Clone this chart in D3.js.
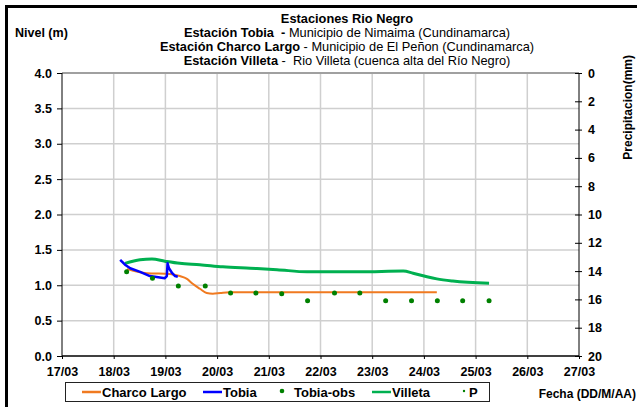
<!DOCTYPE html>
<html>
<head>
<meta charset="utf-8">
<script src="https://cdn.jsdelivr.net/npm/d3@7"></script>
<style>
  body { margin: 0; background: #fff; overflow: hidden; }
  svg { display: block; font-family: "Liberation Sans", Arial, sans-serif; }
  .grid line { stroke: #cfcfcf; stroke-width: 1.5; }
  .axis text { font-size: 12.5px; font-weight: bold; fill: #000; }
  .axis path, .axis line { stroke: #000; }
</style>
</head>
<body>
<svg width="637" height="407"></svg>
<script>
// dates as dd/mm HH:MM
const parse = d3.timeParse("%d/%m %H:%M");

const tobiaTimes = ["18/03 03:00", "18/03 05:15", "18/03 07:40", "18/03 12:15", "18/03 16:50", "18/03 19:10",
                    "18/03 23:45", "19/03 00:40", "19/03 01:00", "19/03 01:40", "19/03 03:10", "19/03 04:30", "19/03 05:45"];
const tobiaValues = [1.36, 1.29, 1.24, 1.19, 1.13, 1.12, 1.10, 1.13, 1.31, 1.24, 1.17, 1.13, 1.12];

const charcoTimes = ["18/03 06:15", "18/03 15:20", "19/03 02:10", "19/03 06:40", "19/03 10:00", "19/03 12:40",
                     "19/03 16:00", "19/03 19:10", "19/03 22:00", "20/03 01:30", "20/03 06:00", "24/03 06:00"];
const charcoValues = [1.23, 1.17, 1.16, 1.13, 1.09, 1.02, 0.95, 0.89, 0.88, 0.89, 0.90, 0.90];

const villetaTimes = ["18/03 05:15", "18/03 12:15", "18/03 17:45", "18/03 23:45", "19/03 06:40", "19/03 16:00",
                      "20/03 02:40", "20/03 15:20", "21/03 03:50", "21/03 17:45", "22/03 18:15", "23/03 14:25",
                      "23/03 19:00", "24/03 01:25", "24/03 06:00", "24/03 13:25", "25/03 06:15"];
const villetaValues = [1.31, 1.36, 1.37, 1.34, 1.31, 1.29, 1.26, 1.24, 1.22, 1.19, 1.19, 1.20,
                       1.17, 1.12, 1.09, 1.06, 1.03];

const obsTimes = ["18/03 06:00", "18/03 18:00", "19/03 06:00", "19/03 18:30", "20/03 06:15", "20/03 18:00",
                  "21/03 06:00", "21/03 18:00", "22/03 06:30", "22/03 18:15", "23/03 06:15", "23/03 18:15",
                  "24/03 06:15", "24/03 18:00", "25/03 06:15"];
const obsValues = [1.19, 1.10, 0.99, 0.99, 0.89, 0.89, 0.88, 0.78, 0.89, 0.89, 0.78, 0.78, 0.78, 0.78, 0.78];

// no precipitation recorded in the period
const precipTimes = [];
const precipValues = [];

const xDomain = ["17/03 00:00", "27/03 00:00"];
const nivelTicks = [0, 0.5, 1, 1.5, 2, 2.5, 3, 3.5, 4];
const precipTicks = [0, 2, 4, 6, 8, 10, 12, 14, 16, 18, 20];

const titleLines = [
  [["Estaciones Rio Negro", true]],
  [["Estación Tobia  - ", true], ["Municipio de Nimaima (Cundinamarca)", false]],
  [["Estación Charco Largo", true], [" - Municipio de El Peñon (Cundinamarca)", false]],
  [["Estación Villeta", true], [" -  Rio Villeta (cuenca alta del Río Negro)", false]]
];

const legendItems = [
  {name: "Charco Largo", kind: "line", color: "#f07a20"},
  {name: "Tobia", kind: "line", color: "#0000ff"},
  {name: "Tobia-obs", kind: "dot", color: "#008000"},
  {name: "Villeta", kind: "line", color: "#00b050"},
  {name: "P", kind: "small", color: "#008000"}
];
const legendX = [82, 203, 282, 372, 464];

const zip = (ts, vs) => ts.map((t, i) => ({date: parse(t), value: vs[i]}));

const svg = d3.select("svg");
const plotL = 62, plotR = 579, plotT = 73, plotB = 356;

// outer frame: only the top and left edges fall inside the picture
svg.append("path")
  .attr("d", "M6.5,407V6.5H637")
  .attr("fill", "none").attr("stroke", "#000").attr("stroke-width", 3);

const x = d3.scaleTime().domain(xDomain.map(parse)).range([plotL, plotR]);
const y = d3.scaleLinear().domain([0, 4]).range([plotB, plotT]);
const yP = d3.scaleLinear().domain([0, 20]).range([plotT, plotB]);

// grid
const grid = svg.append("g").attr("class", "grid");
grid.selectAll(".h").data(nivelTicks.slice(1, -1)).join("line")
  .attr("x1", plotL).attr("x2", plotR).attr("y1", d => y(d)).attr("y2", d => y(d));
grid.selectAll(".v").data(x.ticks(d3.timeDay.every(1)).slice(1, -1)).join("line")
  .attr("x1", d => x(d)).attr("x2", d => x(d)).attr("y1", plotT).attr("y2", plotB);
svg.append("line").attr("x1", plotL).attr("x2", plotR).attr("y1", y(4)).attr("y2", y(4))
  .attr("stroke", "#a0a0a0").attr("stroke-width", 2);

// axes
svg.append("g").attr("class", "axis")
  .attr("transform", "translate(" + plotL + ",0)")
  .call(d3.axisLeft(y).tickValues(nivelTicks).tickFormat(d3.format(".1f")).tickSize(5).tickPadding(5))
  .call(g => g.select(".domain").attr("d", "M0," + plotT + "V" + plotB));

svg.append("g").attr("class", "axis")
  .attr("transform", "translate(" + plotR + ",0)")
  .call(d3.axisRight(yP).tickValues(precipTicks).tickSize(3).tickPadding(6))
  .call(g => g.select(".domain").attr("d", "M0," + plotT + "V" + plotB).attr("stroke", "#333"))
  .call(g => g.selectAll(".tick line").attr("x1", -4));

svg.append("g").attr("class", "axis")
  .attr("transform", "translate(0," + plotB + ")")
  .call(d3.axisBottom(x).ticks(d3.timeDay.every(1)).tickFormat(d3.timeFormat("%d/%m")).tickSize(3).tickPadding(8))
  .call(g => g.select(".domain").attr("d", "M" + plotL + ",0H" + plotR).attr("stroke", "#333").attr("stroke-width", 1.5));

// series
const line = d3.line().x(d => x(d.date)).y(d => y(d.value));
const smooth = d3.line().x(d => x(d.date)).y(d => y(d.value)).curve(d3.curveMonotoneX);

svg.append("path").datum(zip(villetaTimes, villetaValues))
  .attr("d", smooth).attr("fill", "none").attr("stroke", "#00b050").attr("stroke-width", 3);
svg.append("path").datum(zip(charcoTimes, charcoValues))
  .attr("d", smooth).attr("fill", "none").attr("stroke", "#f07a20").attr("stroke-width", 2);
svg.append("path").datum(zip(tobiaTimes, tobiaValues))
  .attr("d", line).attr("fill", "none").attr("stroke", "#0000ff").attr("stroke-width", 2.5)
  .attr("stroke-linejoin", "round");
svg.append("g").selectAll("circle").data(zip(obsTimes, obsValues)).join("circle")
  .attr("cx", d => x(d.date)).attr("cy", d => y(d.value)).attr("r", 2.5).attr("fill", "#008000");
svg.append("g").selectAll("circle").data(zip(precipTimes, precipValues)).join("circle")
  .attr("cx", d => x(d.date)).attr("cy", d => yP(d.value)).attr("r", 1).attr("fill", "#008000");

// titles
const baselines = [23, 37, 51, 65];
titleLines.forEach((parts, i) => {
  const t = svg.append("text").attr("x", 347).attr("y", baselines[i])
    .attr("text-anchor", "middle").attr("font-size", "12.8px").attr("xml:space", "preserve");
  parts.forEach(p => t.append("tspan").attr("font-weight", p[1] ? "bold" : "normal").text(p[0]));
});

svg.append("text").attr("x", 15).attr("y", 37).attr("font-size", "12.5px").attr("font-weight", "bold")
  .text("Nivel (m)");
svg.append("text").attr("transform", "translate(632,55) rotate(-90)").attr("text-anchor", "end")
  .attr("font-size", "12px").attr("font-weight", "bold").text("Precipitacion(mm)");
svg.append("text").attr("x", 636).attr("y", 398).attr("text-anchor", "end")
  .attr("font-size", "12px").attr("font-weight", "bold").text("Fecha (DD/M/AA)");

// legend
const lg = svg.append("g");
lg.append("rect").attr("x", 65.5).attr("y", 382.5).attr("width", 424).attr("height", 19)
  .attr("fill", "#fff").attr("stroke", "#222");
legendItems.forEach((it, i) => {
  const lx = legendX[i], ly = 392;
  let tx;
  if (it.kind === "line") {
    lg.append("line").attr("x1", lx).attr("x2", lx + 19).attr("y1", ly).attr("y2", ly)
      .attr("stroke", it.color).attr("stroke-width", 2.5);
    tx = lx + 20;
  } else {
    lg.append("circle").attr("cx", lx).attr("cy", ly - 1).attr("r", it.kind === "dot" ? 2.3 : 1.2)
      .attr("fill", it.color);
    tx = lx + (it.kind === "dot" ? 12 : 5);
  }
  lg.append("text").attr("x", tx).attr("y", ly + 5).attr("font-size", "13px").attr("font-weight", "bold")
    .text(it.name);
});
</script>
</body>
</html>
